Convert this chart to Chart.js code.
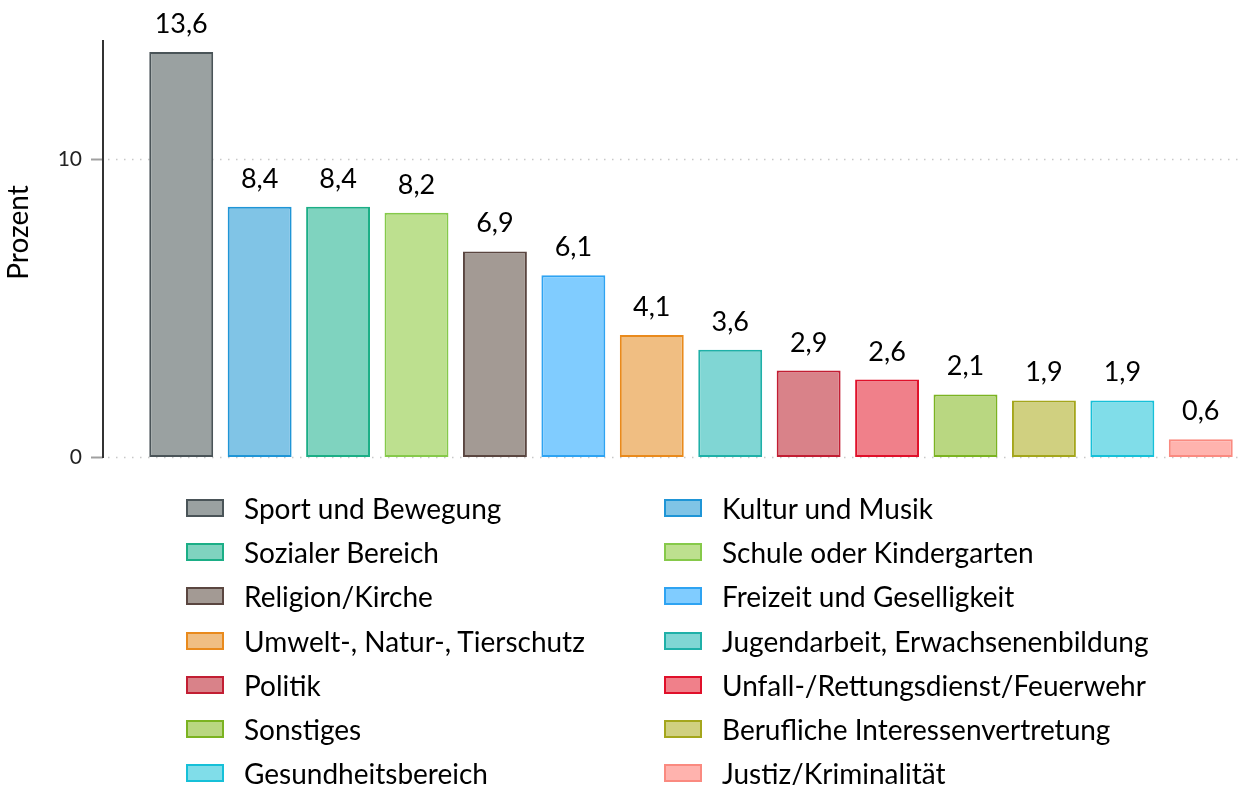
<!DOCTYPE html>
<html>
<head>
<meta charset="utf-8">
<script src="https://cdn.jsdelivr.net/npm/chart.js@4.4.0/dist/chart.umd.min.js"></script>
<style>
  html, body { margin: 0; padding: 0; background: #fff; }
  body { width: 1246px; height: 785px; position: relative; overflow: hidden; font-family: Lato, "Open Sans", sans-serif; }
  #wrap { position: absolute; left: 0; top: 0; width: 1246px; height: 480px; }
  #legend { position: absolute; left: 0; top: 0; width: 1246px; height: 785px; pointer-events: none; }
  .item { position: absolute; height: 30px; display: flex; align-items: center; font-size: 28px; color: #000; white-space: nowrap; }
  .box { width: 34px; height: 14px; border: 2px solid; margin-right: 20px; flex: none; }
</style>
</head>
<body>
<div id="wrap"><canvas id="chart"></canvas></div>
<div id="legend"></div>
<script>
// Kategorien und Werte (Prozent)
const categories = [
  'Sport und Bewegung', 'Kultur und Musik', 'Sozialer Bereich', 'Schule oder Kindergarten',
  'Religion/Kirche', 'Freizeit und Geselligkeit', 'Umwelt-, Natur-, Tierschutz',
  'Jugendarbeit, Erwachsenenbildung', 'Politik', 'Unfall-/Rettungsdienst/Feuerwehr',
  'Sonstiges', 'Berufliche Interessenvertretung', 'Gesundheitsbereich', 'Justiz/Kriminalität'
];
const values = [13.6, 8.4, 8.4, 8.2, 6.9, 6.1, 4.1, 3.6, 2.9, 2.6, 2.1, 1.9, 1.9, 0.6];
const fillColors = [
  '#9aa1a1', '#80c4e6', '#7fd3bf', '#bde08f', '#a39a94', '#80ccff', '#f0be82',
  '#80d6d4', '#d98289', '#f0808a', '#b9d781', '#d0d080', '#80dde9', '#ffb3ae'
];
const borderColors = [
  '#4a5458', '#1f95d6', '#1bae86', '#86c94a', '#5a4640', '#2ea3f2', '#e98a1c',
  '#1fb0a8', '#c21e33', '#e0102a', '#7bb321', '#a4a61c', '#16c0d8', '#fa8a80'
];
const yTicks = [0, 10];
const yTitle = 'Prozent';

const fmt = v => v.toFixed(1).replace('.', ',');

// Achse, Tickmarken, gepunktete Gitterlinien und Achsentitel
const axisPlugin = {
  id: 'axisPlugin',
  beforeDatasetsDraw(chart) {
    const { ctx, chartArea, scales } = chart;
    const y = scales.y;
    const axisX = chartArea.left - 39;
    ctx.save();
    ctx.strokeStyle = '#c8c8c8';
    ctx.lineWidth = 1.5;
    ctx.setLineDash([1.5, 6.5]);
    yTicks.forEach(t => {
      const py = Math.round(y.getPixelForValue(t)) + 0.5;
      ctx.beginPath();
      ctx.moveTo(axisX + 5, py);
      ctx.lineTo(chartArea.right, py);
      ctx.stroke();
    });
    ctx.setLineDash([]);
    ctx.strokeStyle = '#a0a0a0';
    ctx.lineWidth = 2;
    yTicks.forEach(t => {
      const py = Math.round(y.getPixelForValue(t)) + 0.5;
      ctx.beginPath();
      ctx.moveTo(axisX - 12, py);
      ctx.lineTo(axisX, py);
      ctx.stroke();
    });
    ctx.strokeStyle = '#333';
    ctx.lineWidth = 2;
    ctx.beginPath();
    ctx.moveTo(axisX, chartArea.top);
    ctx.lineTo(axisX, y.getPixelForValue(0) + 1);
    ctx.stroke();

    // Achsentitel, etwas oberhalb der Mitte
    ctx.translate(19, (chartArea.top + chartArea.bottom) / 2 - 16);
    ctx.rotate(-Math.PI / 2);
    ctx.font = '28px Lato, sans-serif';
    ctx.fillStyle = '#000';
    ctx.textAlign = 'center';
    ctx.textBaseline = 'middle';
    ctx.fillText(yTitle, 0, 0);
    ctx.restore();
  }
};

// Wertbeschriftungen über den Balken
const valueLabels = {
  id: 'valueLabels',
  afterDatasetsDraw(chart) {
    const { ctx } = chart;
    const meta = chart.getDatasetMeta(0);
    ctx.save();
    ctx.font = '27px Lato, sans-serif';
    ctx.fillStyle = '#000';
    ctx.textAlign = 'center';
    ctx.textBaseline = 'alphabetic';
    meta.data.forEach((bar, i) => {
      ctx.fillText(fmt(values[i]), bar.x, bar.y - 19);
    });
    ctx.restore();
  }
};

new Chart(document.getElementById('chart'), {
  type: 'bar',
  data: {
    labels: categories,
    datasets: [{
      data: values,
      backgroundColor: fillColors,
      borderColor: borderColors,
      borderWidth: 2,
      borderSkipped: false,
      categoryPercentage: 1,
      barPercentage: 0.815
    }]
  },
  options: {
    responsive: true,
    maintainAspectRatio: false,
    animation: false,
    layout: { padding: { top: 40, right: 6, bottom: 23, left: 0 } },
    plugins: { legend: { display: false }, tooltip: { enabled: false } },
    scales: {
      x: { display: false },
      y: {
        min: 0,
        max: 14,
        afterFit(scale) {
          scale.width = 142;
          scale.paddingTop = 0;
          scale.paddingBottom = 0;
        },
        afterBuildTicks(scale) { scale.ticks = yTicks.map(v => ({ value: v })); },
        border: { display: false },
        grid: { display: false, drawTicks: false },
        ticks: {
          padding: 60,
          color: '#222',
          font: { family: 'Lato', size: 21 },
          callback: v => String(v)
        },
        title: { display: false }
      }
    }
  },
  plugins: [axisPlugin, valueLabels]
});

// Legende in zwei Spalten, zeilenweise
const legend = document.getElementById('legend');
categories.forEach((name, i) => {
  const row = Math.floor(i / 2), col = i % 2;
  const el = document.createElement('div');
  el.className = 'item';
  el.style.left = (col === 0 ? 186 : 664) + 'px';
  el.style.top = (508 + row * 44.2 - 15) + 'px';
  const box = document.createElement('span');
  box.className = 'box';
  box.style.background = fillColors[i];
  box.style.borderColor = borderColors[i];
  const txt = document.createElement('span');
  txt.textContent = name;
  el.appendChild(box);
  el.appendChild(txt);
  legend.appendChild(el);
});
</script>
</body>
</html>
